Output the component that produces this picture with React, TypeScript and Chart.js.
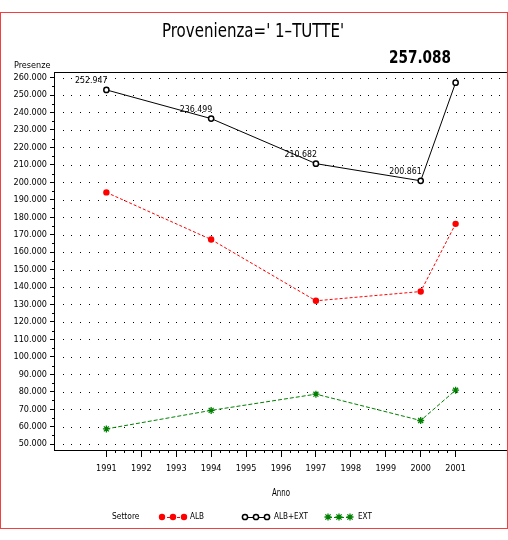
import React, { useEffect, useRef } from 'react';
import { Chart, registerables } from 'chart.js';

Chart.register(...registerables);

const years = [1991, 1994, 1997, 2000, 2001];
const albExt = [252947, 236499, 210682, 200861, 257088];
const alb = [194200, 167200, 132100, 137400, 176200];
const ext = [58700, 69300, 78600, 63500, 80900];
const yearTicks = [1991, 1992, 1993, 1994, 1995, 1996, 1997, 1998, 1999, 2000, 2001];
const valueTicks = [50000, 60000, 70000, 80000, 90000, 100000, 110000, 120000, 130000, 140000, 150000, 160000, 170000, 180000, 190000, 200000, 210000, 220000, 230000, 240000, 250000, 260000];
const seriesNames = ['ALB', 'ALB+EXT', 'EXT'];
const titleText = "Provenienza=' 1\u2013TUTTE'";
const lastValueText = '257.088';

const FONT = '"DejaVu Sans Condensed", "DejaVu Sans", sans-serif';
const RED = '#ff0000';
const GREEN = '#008000';
const BLACK = '#000000';

function fmt(v: number): string {
  return Math.round(v).toString().replace(/\B(?=(\d{3})+(?!\d))/g, '.');
}

function txt(ctx: CanvasRenderingContext2D, s: string, x: number, y: number, size: number, sx: number, align: CanvasTextAlign, bold = false) {
  ctx.save();
  ctx.fillStyle = '#000';
  ctx.font = `${bold ? 'bold ' : ''}${size}px ${FONT}`;
  ctx.textAlign = align;
  ctx.textBaseline = 'middle';
  ctx.translate(x, y);
  ctx.scale(sx, 1);
  ctx.fillText(s, 0, 0);
  ctx.restore();
}

function drawMarker(ctx: CanvasRenderingContext2D, kind: string, x: number, y: number, color: string) {
  ctx.save();
  ctx.setLineDash([]);
  if (kind === 'circleFilled') {
    ctx.fillStyle = color;
    ctx.beginPath();
    ctx.arc(x, y, 3.2, 0, Math.PI * 2);
    ctx.fill();
  } else if (kind === 'circleOpen') {
    ctx.strokeStyle = color;
    ctx.fillStyle = '#fff';
    ctx.lineWidth = 1.5;
    ctx.beginPath();
    ctx.arc(x, y, 2.6, 0, Math.PI * 2);
    ctx.fill();
    ctx.stroke();
  } else {
    ctx.strokeStyle = color;
    ctx.lineWidth = 1.3;
    const r = 3.5;
    ctx.beginPath();
    ctx.moveTo(x - r, y); ctx.lineTo(x + r, y);
    ctx.moveTo(x, y - r); ctx.lineTo(x, y + r);
    const d = r * 0.75;
    ctx.moveTo(x - d, y - d); ctx.lineTo(x + d, y + d);
    ctx.moveTo(x - d, y + d); ctx.lineTo(x + d, y - d);
    ctx.stroke();
  }
  ctx.restore();
}

const decor = {
  id: 'decor',
  beforeDatasetsDraw(chart: any) {
    const { ctx, chartArea: a, scales } = chart;
    const x = scales.x;
    const y = scales.y;
    ctx.save();
    ctx.fillStyle = '#000';
    for (const v of valueTicks) {
      const py = Math.round(y.getPixelForValue(v));
      for (let q = x.min + 0.25; q < x.max; q += 0.25) {
        const px = Math.round(x.getPixelForValue(q));
        ctx.fillRect(px, py, 1, 1);
      }
    }
    ctx.strokeStyle = '#000';
    ctx.lineWidth = 1;
    ctx.beginPath();
    ctx.moveTo(a.left, a.top + 0.5);
    ctx.lineTo(a.right, a.top + 0.5);
    ctx.stroke();
    ctx.beginPath();
    for (const v of valueTicks) {
      const mv = v + 5000;
      if (mv > y.max) continue;
      const py = Math.round(y.getPixelForValue(mv)) + 0.5;
      ctx.moveTo(a.left - 2, py);
      ctx.lineTo(a.left, py);
    }
    for (let q = yearTicks[0]; q < yearTicks[yearTicks.length - 1]; q += 0.25) {
      if (Number.isInteger(q)) continue;
      const px = Math.round(x.getPixelForValue(q)) + 0.5;
      ctx.moveTo(px, a.bottom);
      ctx.lineTo(px, a.bottom + 3);
    }
    ctx.stroke();
    ctx.restore();
  },
  afterDatasetsDraw(chart: any) {
    const { ctx, chartArea: a, scales } = chart;
    const x = scales.x;
    const y = scales.y;
    ctx.save();
    for (let i = 0; i < years.length - 1; i++) {
      const px = x.getPixelForValue(years[i]);
      const py = y.getPixelForValue(albExt[i]);
      txt(ctx, fmt(albExt[i]), px + 1, py - 9, 9.5, 0.92, 'right');
    }
    txt(ctx, titleText, 253, 32, 19, 0.88, 'center');
    txt(ctx, lastValueText, 420, 58, 18, 0.84, 'center', true);
    txt(ctx, 'Presenze', 14, 66, 9, 1, 'left');
    txt(ctx, 'Anno', (a.left + a.right) / 2, 493, 10, 0.78, 'center');
    const ly = 517;
    txt(ctx, 'Settore', 112, ly, 9.5, 0.88, 'left');
    const items = [
      { name: seriesNames[0], color: RED, kind: 'circleFilled', dash: [3, 2], x0: 162, tx: 190 },
      { name: seriesNames[1], color: BLACK, kind: 'circleOpen', dash: [], x0: 245, tx: 274 },
      { name: seriesNames[2], color: GREEN, kind: 'star', dash: [4, 2], x0: 328, tx: 358 },
    ];
    for (const it of items) {
      ctx.save();
      ctx.strokeStyle = it.color;
      ctx.lineWidth = 1;
      ctx.setLineDash(it.dash);
      ctx.beginPath();
      ctx.moveTo(it.x0, ly + 0.5);
      ctx.lineTo(it.x0 + 22, ly + 0.5);
      ctx.stroke();
      ctx.restore();
      for (let k = 0; k < 3; k++) drawMarker(ctx, it.kind, it.x0 + k * 11, ly, it.color);
      txt(ctx, it.name, it.tx, ly, 9.5, 0.85, 'left');
    }
    ctx.strokeStyle = '#f04040';
    ctx.lineWidth = 1;
    ctx.setLineDash([]);
    ctx.strokeRect(0.5, 12.5, 507, 516);
    ctx.restore();
  },
};

export default function App() {
  const ref = useRef<HTMLCanvasElement | null>(null);
  useEffect(() => {
    if (!ref.current) return;
    const toPts = (vals: number[]) => years.map((yr, i) => ({ x: yr, y: vals[i] }));
    const chart = new Chart(ref.current, {
      type: 'line',
      data: {
        datasets: [
          {
            label: seriesNames[0],
            data: toPts(alb),
            borderColor: RED,
            backgroundColor: RED,
            borderWidth: 1,
            borderDash: [3, 2],
            pointStyle: 'circle',
            pointRadius: 3.2,
            pointBorderWidth: 0,
            pointBackgroundColor: RED,
            tension: 0,
          },
          {
            label: seriesNames[1],
            data: toPts(albExt),
            borderColor: BLACK,
            backgroundColor: '#fff',
            borderWidth: 1,
            pointStyle: 'circle',
            pointRadius: 2.6,
            pointBorderWidth: 1.5,
            pointBorderColor: BLACK,
            pointBackgroundColor: '#fff',
            tension: 0,
          },
          {
            label: seriesNames[2],
            data: toPts(ext),
            borderColor: GREEN,
            backgroundColor: GREEN,
            borderWidth: 1,
            borderDash: [4, 2],
            pointStyle: 'star',
            pointRadius: 3.5,
            pointBorderWidth: 1.3,
            pointBorderColor: GREEN,
            tension: 0,
          },
        ],
      },
      options: {
        responsive: false,
        animation: false,
        devicePixelRatio: 1,
        layout: { autoPadding: false, padding: { top: 72, left: 0, right: 0, bottom: 0 } },
        plugins: { legend: { display: false }, title: { display: false }, tooltip: { enabled: false } },
        scales: {
          x: {
            type: 'linear',
            min: 1989.5,
            max: 2002.5,
            afterBuildTicks: (s: any) => { s.ticks = yearTicks.map((v) => ({ value: v })); },
            afterFit: (s: any) => { s.height = 90; s.paddingLeft = 0; s.paddingRight = 0; },
            ticks: {
              autoSkip: false,
              maxRotation: 0,
              padding: 6,
              color: '#000',
              font: { family: FONT, size: 9 },
              callback: (v: any) => String(v),
            },
            grid: { drawOnChartArea: false, drawTicks: true, tickLength: 7, tickColor: '#000', color: '#000' },
            border: { display: true, color: '#000', width: 1 },
          },
          y: {
            type: 'linear',
            min: 46600,
            max: 263200,
            afterBuildTicks: (s: any) => { s.ticks = valueTicks.map((v) => ({ value: v })); },
            afterFit: (s: any) => { s.width = 54; s.paddingTop = 0; s.paddingBottom = 0; },
            ticks: {
              padding: 3,
              color: '#000',
              font: { family: FONT, size: 9 },
              callback: (v: any) => fmt(Number(v)),
            },
            grid: { drawOnChartArea: false, drawTicks: true, tickLength: 4, tickColor: '#000', color: '#000' },
            border: { display: true, color: '#000', width: 1 },
          },
        },
      },
      plugins: [decor],
    } as any);
    return () => chart.destroy();
  }, []);
  return (
    <div style={{ position: 'fixed', left: 0, top: 0, width: 508, height: 540, background: '#fff' }}>
      <canvas ref={ref} width={508} height={540} style={{ display: 'block', width: 508, height: 540 }} />
    </div>
  );
}
